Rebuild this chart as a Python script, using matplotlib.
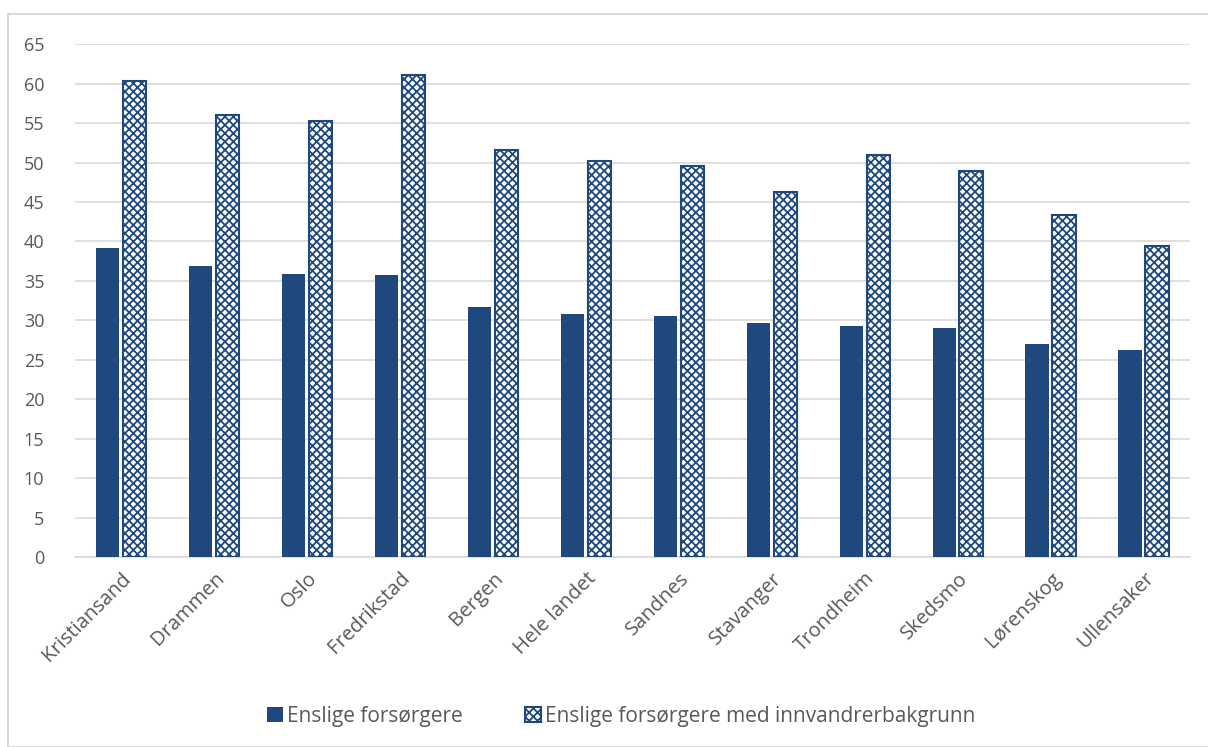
import numpy as np
import matplotlib.pyplot as plt
from matplotlib.patches import Rectangle

plt.rcParams['font.family'] = ['Open Sans', 'DejaVu Sans']
plt.rcParams['hatch.linewidth'] = 1.3

kommuner = ["Kristiansand", "Drammen", "Oslo", "Fredrikstad", "Bergen", "Hele landet",
            "Sandnes", "Stavanger", "Trondheim", "Skedsmo", "Lørenskog", "Ullensaker"]
enslige = [39.2, 36.9, 35.9, 35.8, 31.7, 30.8, 30.6, 29.7, 29.3, 29.0, 27.0, 26.3]
innvandrer = [60.3, 56.0, 55.2, 61.1, 51.6, 50.2, 49.6, 46.3, 51.0, 48.9, 43.3, 39.4]

blue = '#1F497D'
grey = '#595959'

fig = plt.figure(figsize=(12.08, 7.47), dpi=100)
fig.patches.append(Rectangle((8 / 1208, 0), 1.2, 1 - 14 / 747, transform=fig.transFigure,
                             fill=False, edgecolor='#D9D9D9', linewidth=1.5))
ax = fig.add_axes([0.062, 0.254, 0.923, 0.687])

x = np.arange(len(kommuner))
w = 0.25
ax.bar(x - w / 2 - 0.02, enslige, w, color=blue, label='Enslige forsørgere', zorder=3)
ax.bar(x + w / 2 + 0.02, innvandrer, w, color='white', edgecolor=blue, hatch='xxxx',
       linewidth=1.5, label='Enslige forsørgere med innvandrerbakgrunn', zorder=3)

ax.set_ylim(0, 65)
ax.set_yticks(range(0, 66, 5))
ax.set_xlim(-0.5, len(kommuner) - 0.5)
ax.set_xticks(x)
ax.set_xticklabels(kommuner, rotation=45, ha='right', rotation_mode='anchor')
ax.tick_params(axis='both', length=0, labelsize=13, labelcolor=grey)
ax.tick_params(axis='x', labelsize=14.5, pad=8)
ax.tick_params(axis='y', pad=22)
ax.grid(axis='y', color='#D9D9D9', linewidth=1.2, zorder=0)
for s in ['top', 'right', 'left']:
    ax.spines[s].set_visible(False)
ax.spines['bottom'].set_color('#D9D9D9')
ax.spines['bottom'].set_linewidth(1.2)

ax.legend(loc='center', bbox_to_anchor=(0.49, -0.31), ncol=2, frameon=False,
          fontsize=15, labelcolor=grey, handlelength=0.75, handleheight=0.75,
          handletextpad=0.2, columnspacing=3.0)

fig.savefig('out.png', dpi=100)
